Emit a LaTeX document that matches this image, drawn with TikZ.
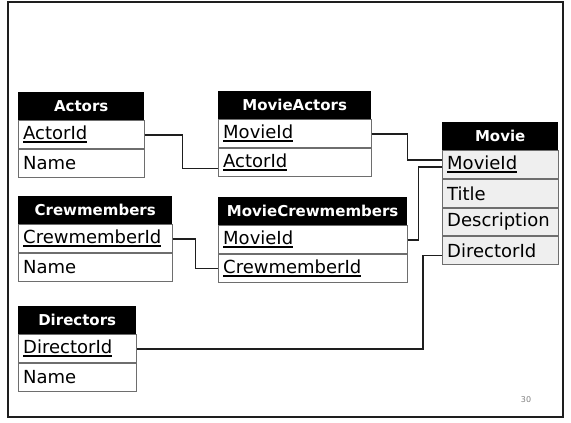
\documentclass[tikz,border=0pt]{standalone}
\usepackage{fontspec}
\setmainfont{DejaVu Sans}
\usetikzlibrary{positioning}
\definecolor{rowgray}{HTML}{EFEFEF}
\definecolor{edgegray}{HTML}{6E6E6E}
\definecolor{linkgray}{HTML}{1E1E1E}
\newcommand{\keyattr}[1]{\setbox0\hbox{#1}\rlap{\rule[-3.5pt]{\wd0}{2pt}}\box0}
\tikzset{
  tabhead/.style={fill=black,text=white,font=\fontsize{15}{17}\selectfont\bfseries,
    minimum width=#1,minimum height=28pt,inner sep=0pt,anchor=north west},
  tabrow/.style={draw=edgegray,line width=0.9pt,fill=white,font=\fontsize{18}{20}\selectfont,
    text width=#1,align=left,minimum height=27.75pt,inner xsep=5pt,inner ysep=0pt},
  movierow/.style={tabrow=#1,fill=rowgray},
  link/.style={draw=linkgray,line width=1.6pt},
  framebox/.style={draw=linkgray,line width=1.8pt}
}
\begin{document}
\begin{tikzpicture}[x=1pt,y=-1pt]
\useasboundingbox (0,0) rectangle (571,423);
\draw[framebox] (8,2) rectangle (563,417);

\node[tabhead=126pt] (actors) at (18,92) {Actors};
\node[tabrow=116pt,below=0pt of actors] (actors-id) {\keyattr{ActorId}};
\node[tabrow=116pt,below=0pt of actors-id] (actors-name) {Name};

\node[tabhead=154pt] (crew) at (18,196) {Crewmembers};
\node[tabrow=144pt,below=0pt of crew] (crew-id) {\keyattr{CrewmemberId}};
\node[tabrow=144pt,below=0pt of crew-id] (crew-name) {Name};

\node[tabhead=118pt] (dirs) at (18,306) {Directors};
\node[tabrow=108pt,below=0pt of dirs] (dirs-id) {\keyattr{DirectorId}};
\node[tabrow=108pt,below=0pt of dirs-id] (dirs-name) {Name};

\node[tabhead=153pt] (ma) at (218,91) {MovieActors};
\node[tabrow=143pt,below=0pt of ma] (ma-movie) {\keyattr{MovieId}};
\node[tabrow=143pt,below=0pt of ma-movie] (ma-actor) {\keyattr{ActorId}};

\node[tabhead=189pt] (mcm) at (218,197) {MovieCrewmembers};
\node[tabrow=179pt,below=0pt of mcm] (mcm-movie) {\keyattr{MovieId}};
\node[tabrow=179pt,below=0pt of mcm-movie] (mcm-crew) {\keyattr{CrewmemberId}};

\node[tabhead=116pt] (movie) at (442,122) {Movie};
\node[movierow=106pt,below=0pt of movie] (movie-id) {\keyattr{MovieId}};
\node[movierow=106pt,below=0pt of movie-id] (movie-title) {Title};
\node[movierow=106pt,below=0pt of movie-title] (movie-desc) {Description};
\node[movierow=106pt,below=0pt of movie-desc] (movie-dir) {DirectorId};

\draw[link] (actors-id.east) -- ++(38,0) |- ([yshift=-6pt]ma-actor.west);
\draw[link] (ma-movie.east) -- ++(36,0) |- ([yshift=5pt]movie-id.west);
\draw[link] (crew-id.east) -- ++(23,0) |- (mcm-crew.west);
\draw[link] (mcm-movie.east) -- ++(11,0) |- ([yshift=-2pt]movie-id.west);
\draw[link] ([yshift=-5pt]movie-dir.west) -- ++(-19,0) |- (dirs-id.east);

\node[text=gray,font=\fontsize{8}{9}\selectfont] (pageno) at (526,400) {30};
\end{tikzpicture}
\end{document}
